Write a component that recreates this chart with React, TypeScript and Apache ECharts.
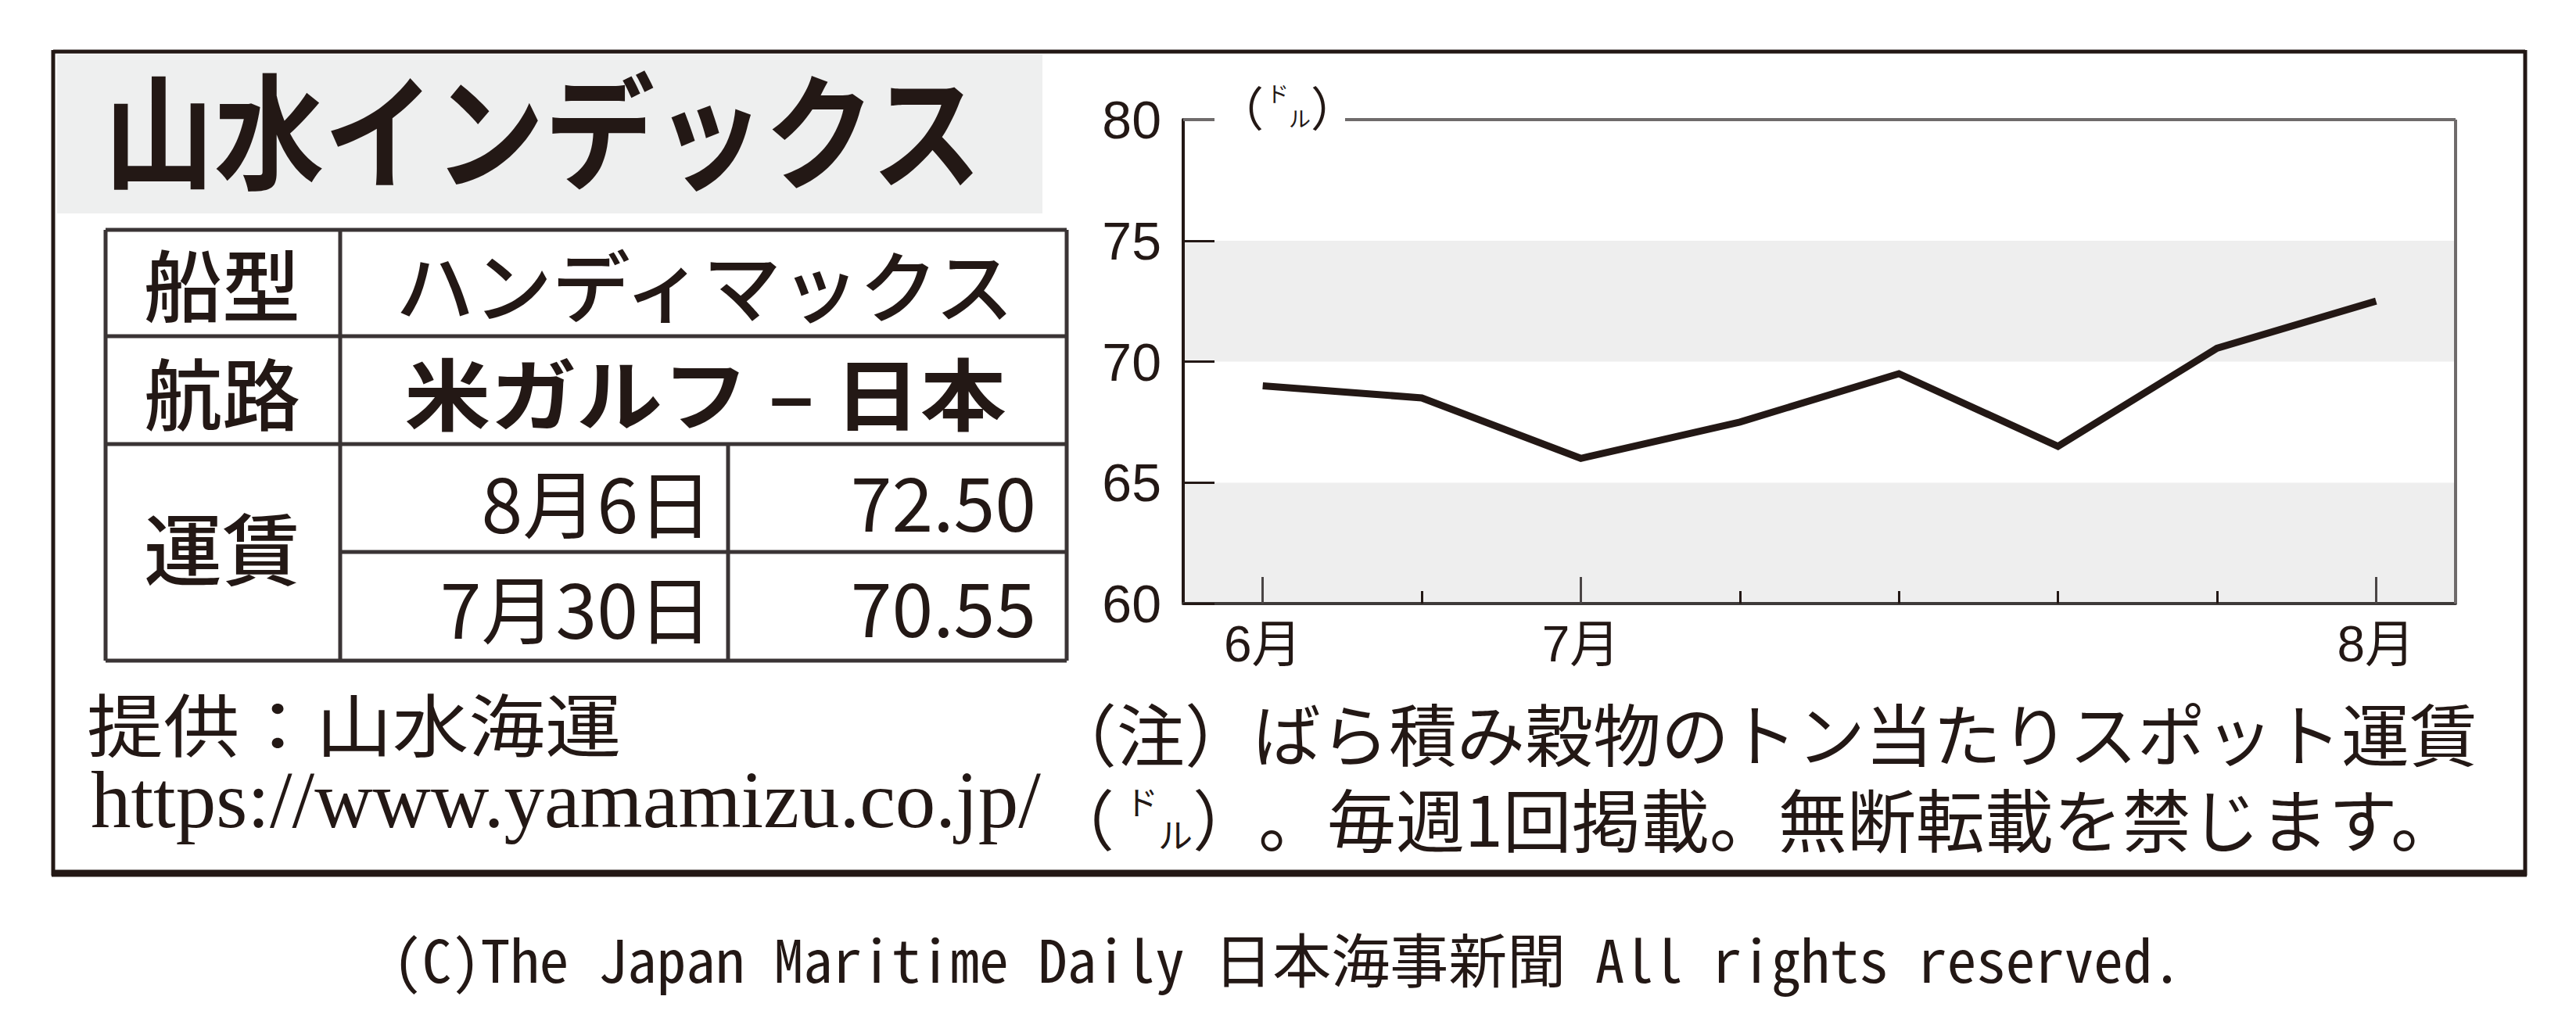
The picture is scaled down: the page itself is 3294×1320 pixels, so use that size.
import React, { useEffect, useRef } from "react";
import * as echarts from "echarts";

// ---------- data ----------
const weekLabels = ["6月", "", "7月", "", "", "", "", "8月"];
const majorTickIdx = [0, 2, 7];
const freightUSD = [69.0, 68.5, 66.0, 67.5, 69.5, 66.5, 70.55, 72.5];
const yMin = 60;
const yMax = 80;
const yStep = 5;

const titleText = "山水インデックス";
const rowHeads = ["船型", "航路", "運賃"];
const shipType = "ハンディマックス";
const route = "米ガルフ – 日本";
const rateDates = ["8月6日", "7月30日"];
const rateValues = [freightUSD[7], freightUSD[6]];
const sourceText = "提供：山水海運";
const sourceUrl = "https://www.yamamizu.co.jp/";
const noteLine1 = "（注）ばら積み穀物のトン当たりスポット運賃";
const noteLine2Rest = "。毎週1回掲載。無断転載を禁じます。";
const unitChars = ["ド", "ル"];
const copyright = "(C)The Japan Maritime Daily 日本海事新聞 All rights reserved.";

// ---------- layout ----------
const W = 3294;
const H = 1320;
const INK = "#231815";
const GRAY_BG = "#eeeeee";
const CJK = "'Noto Sans CJK JP', 'Noto Sans', sans-serif";
const NARROW = "'Liberation Sans Narrow', 'Liberation Sans', 'Noto Sans CJK JP', sans-serif";
const GRID = { left: 1513, top: 153, right: 3140, bottom: 772 };

function txt(
  text: string,
  x: number,
  y: number,
  size: number,
  opts: { align?: string; weight?: any; family?: string; scaleX?: number; fill?: string; rich?: any } = {}
) {
  const align = opts.align || "left";
  const style: any = {
    text,
    x: 0,
    y: 0,
    fill: opts.fill || INK,
    fontSize: size,
    fontFamily: opts.family || CJK,
    fontWeight: opts.weight || "normal",
    align,
    textAlign: align,
    verticalAlign: "middle",
    textVerticalAlign: "middle",
  };
  if (opts.rich) style.rich = opts.rich;
  return {
    type: "text",
    x,
    y,
    scaleX: opts.scaleX || 1,
    z: 10,
    style,
  };
}

function ln(x1: number, y1: number, x2: number, y2: number, w: number, color = INK) {
  return {
    type: "line",
    z: 5,
    shape: { x1, y1, x2, y2 },
    style: { stroke: color, lineWidth: w },
  };
}

function tok(size: number, extra: any = {}) {
  return { fontSize: size, fontFamily: CJK, fill: INK, color: INK, verticalAlign: "middle", ...extra };
}

function buildGraphics() {
  const g: any[] = [];
  // outer frame
  g.push({
    type: "rect",
    z: 1,
    shape: { x: 73, y: 70, width: 1260, height: 203 },
    style: { fill: "#eeefef" },
  });
  g.push(ln(68, 66, 3229, 66, 5));
  g.push(ln(68, 64, 68, 1120, 5));
  g.push(ln(3229, 64, 3229, 1120, 5));
  g.push(ln(66, 1117, 3231, 1117, 9));

  // title
  g.push(txt(titleText, 133, 160, 160, { weight: "bold", scaleX: 0.88 }));

  // table lines
  const TL = 135, TC1 = 435, TC2 = 931, TR = 1364;
  const TY = [294, 430, 568, 706, 845];
  const tc = "#3a3435";
  g.push(ln(TL, TY[0], TR, TY[0], 5, tc));
  g.push(ln(TL, TY[1], TR, TY[1], 5, tc));
  g.push(ln(TL, TY[2], TR, TY[2], 5, tc));
  g.push(ln(TC1, TY[3], TR, TY[3], 5, tc));
  g.push(ln(TL, TY[4], TR, TY[4], 5, tc));
  g.push(ln(TL, TY[0], TL, TY[4], 5, tc));
  g.push(ln(TC1, TY[0], TC1, TY[4], 5, tc));
  g.push(ln(TC2, TY[2], TC2, TY[4], 5, tc));
  g.push(ln(TR, TY[0], TR, TY[4], 5, tc));

  // table texts
  g.push(txt(rowHeads[0], 284, 360, 100, { align: "center", weight: 500 }));
  g.push(txt(shipType, 901, 361, 100, { align: "center", weight: 500 }));
  g.push(txt(rowHeads[1], 284, 499, 100, { align: "center", weight: 500 }));
  g.push(txt(route, 902, 499, 100, { align: "center", weight: "bold", scaleX: 1.1 }));
  g.push(txt(rowHeads[2], 284, 697, 100, { align: "center", weight: 500 }));
  g.push(txt(rateDates[0], 911, 640, 95, { align: "right" }));
  g.push(txt(rateValues[0].toFixed(2), 1325, 638, 95, { align: "right" }));
  g.push(txt(rateDates[1], 911, 775, 95, { align: "right" }));
  g.push(txt(rateValues[1].toFixed(2), 1325, 773, 95, { align: "right" }));

  // source
  g.push(txt(sourceText, 111, 923, 88, { scaleX: 1.11 }));
  g.push(txt(sourceUrl, 116, 1023, 103, { family: "'Liberation Serif', 'DejaVu Serif', serif" }));

  // note line 1
  g.push(txt(noteLine1, 1341, 936, 87));
  // note line 2: （ドル）。毎週…
  g.push(
    txt(
      "{p|（}{a|" + unitChars[0] + "}{b|" + unitChars[1] + "}{q|）}{n|" + noteLine2Rest + "}",
      1341,
      1044,
      87,
      {
        rich: {
          p: tok(84, { padding: [0, 14, 0, 0] }),
          a: tok(42, { verticalAlign: "top", padding: [2, 0, 0, 0] }),
          b: tok(44, { verticalAlign: "bottom" }),
          q: tok(84),
          n: tok(88),
        },
      }
    )
  );

  // chart frame: top border with gap for unit, right border
  g.push(ln(GRID.left, GRID.top, 1553, GRID.top, 4, "#6f6b6b"));
  g.push(ln(1720, GRID.top, GRID.right, GRID.top, 4, "#6f6b6b"));
  g.push(ln(GRID.right, GRID.top, GRID.right, GRID.bottom, 4, "#6f6b6b"));
  // unit label (ドル)
  g.push(
    txt("{p|（}{a|" + unitChars[0] + "}{b|" + unitChars[1] + "}{q|）}", 1556, 135, 60, {
      rich: {
        p: tok(60, { padding: [0, 4, 0, 0] }),
        a: tok(28, { verticalAlign: "top" }),
        b: tok(28, { verticalAlign: "bottom" }),
        q: tok(60),
      },
    })
  );

  // copyright
  g.push(
    txt(copyright, 1646, 1224, 75, {
      align: "center",
      family: "'Noto Sans Mono CJK JP', 'Liberation Mono', monospace",
    })
  );
  return g;
}

function buildOption(): any {
  return {
    animation: false,
    backgroundColor: "#ffffff",
    grid: {
      left: GRID.left,
      top: GRID.top,
      width: GRID.right - GRID.left,
      height: GRID.bottom - GRID.top,
      containLabel: false,
    },
    xAxis: [
      {
        type: "category",
        data: weekLabels,
        boundaryGap: true,
        position: "bottom",
        axisLine: { show: true, lineStyle: { color: "#3e3a39", width: 4 } },
        axisTick: {
          show: true,
          inside: true,
          alignWithLabel: true,
          length: 34,
          interval: (i: number) => majorTickIdx.indexOf(i) >= 0,
          lineStyle: { color: "#4a4545", width: 3 },
        },
        axisLabel: {
          show: true,
          interval: 0,
          margin: 20,
          color: INK,
          fontSize: 64,
          fontFamily: NARROW,
        },
        splitLine: { show: false },
      },
      {
        type: "category",
        data: weekLabels,
        boundaryGap: true,
        position: "bottom",
        axisLine: { show: false },
        axisTick: {
          show: true,
          inside: true,
          alignWithLabel: true,
          length: 16,
          interval: (i: number) => majorTickIdx.indexOf(i) < 0,
          lineStyle: { color: INK, width: 3 },
        },
        axisLabel: { show: false },
        splitLine: { show: false },
      },
    ],
    yAxis: {
      type: "value",
      min: yMin,
      max: yMax,
      interval: yStep,
      axisLine: { show: true, lineStyle: { color: INK, width: 4 } },
      axisTick: { show: true, inside: true, length: 40, lineStyle: { color: INK, width: 3 } },
      axisLabel: {
        show: true,
        margin: 28,
        color: INK,
        fontSize: 68,
        fontFamily: NARROW,
        padding: [0, 0, 10, 0],
      },
      splitLine: { show: false },
      splitArea: { show: true, areaStyle: { color: [GRAY_BG, "#ffffff"] } },
    },
    series: [
      {
        type: "line",
        xAxisIndex: 0,
        data: freightUSD,
        symbol: "none",
        lineStyle: { color: INK, width: 9, cap: "butt", join: "miter" },
        z: 3,
      },
    ],
    graphic: buildGraphics(),
  };
}

export default function App() {
  const ref = useRef<HTMLDivElement>(null);
  useEffect(() => {
    if (!ref.current) return;
    const chart = echarts.init(ref.current, null, { renderer: "svg", width: W, height: H });
    chart.setOption(buildOption());
    return () => chart.dispose();
  }, []);
  return (
    <div
      ref={ref}
      style={{ position: "absolute", left: 0, top: 0, width: W, height: H, background: "#ffffff" }}
    />
  );
}
